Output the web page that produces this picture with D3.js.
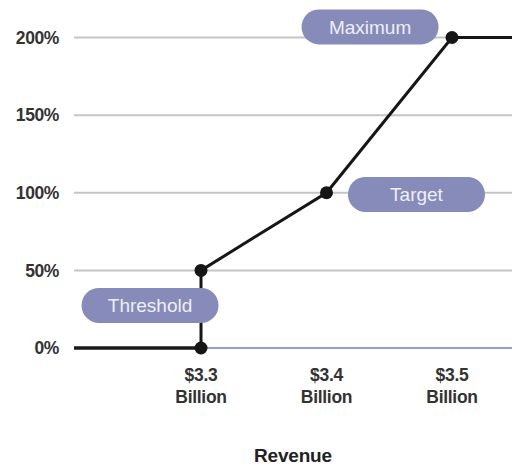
<!DOCTYPE html>
<html><head><meta charset="utf-8">
<script src="https://cdn.jsdelivr.net/npm/d3@7"></script>
<style>body{margin:0;background:#fff}svg{display:block}</style>
</head><body>
<script>
const yTicks = [0, 50, 100, 150, 200];
const xTicks = [3.3, 3.4, 3.5];
const xTickLabels = ["$3.3", "$3.4", "$3.5"];
const payoutX = [3.3, 3.3, 3.4, 3.5, 3.65];
const payoutY = [0, 50, 100, 200, 200];
const dotIdx = [0, 1, 2, 3];
const labels = ["Threshold", "Target", "Maximum"];
const labelX = [3.2594, 3.4717, 3.4347];
const labelY = [27.4, 98.9, 206.8];

const W = 512, H = 467;
const svg = d3.select("body").append("svg").attr("width", W).attr("height", H);
const x = d3.scaleLinear().domain([3.3, 3.5]).range([201, 452]);
const y = d3.scaleLinear().domain([0, 200]).range([348, 37.5]);
const font = "Helvetica, Arial, 'Liberation Sans', sans-serif";

// gridlines
svg.append("g").selectAll("line").data(yTicks.filter(d => d > 0)).join("line")
  .attr("x1", 74).attr("x2", W).attr("y1", d => y(d)).attr("y2", d => y(d))
  .attr("stroke", "#c4c4c4").attr("stroke-width", 2);
// blue baseline
svg.append("line").attr("x1", x(3.3)).attr("x2", W).attr("y1", y(0)).attr("y2", y(0))
  .attr("stroke", "#6f7fb8").attr("stroke-width", 1.5);
// black baseline left of threshold
svg.append("line").attr("x1", 74).attr("x2", x(3.3)).attr("y1", y(0)).attr("y2", y(0))
  .attr("stroke", "#1a1a1a").attr("stroke-width", 3.5);

// y labels
svg.append("g").selectAll("text").data(yTicks).join("text")
  .attr("x", 59).attr("y", d => y(d)).attr("dy", "0.36em").attr("text-anchor", "end")
  .attr("font-family", font).attr("font-weight", "bold").attr("font-size", 17.5)
  .attr("letter-spacing", -0.4).attr("fill", "#333")
  .text(d => d + "%");

// x labels
const xl = svg.append("g").selectAll("text").data(xTicks).join("text")
  .attr("text-anchor", "middle").attr("font-family", font).attr("font-weight", "bold")
  .attr("font-size", 17.5).attr("letter-spacing", -0.3).attr("fill", "#333");
xl.append("tspan").attr("x", d => x(d)).attr("y", 381).text((d, i) => xTickLabels[i]);
xl.append("tspan").attr("x", d => x(d)).attr("y", 403).text("Billion");

svg.append("text").attr("x", 293).attr("y", 462).attr("text-anchor", "middle")
  .attr("font-family", font).attr("font-weight", "bold").attr("font-size", 19)
  .attr("letter-spacing", -0.2).attr("fill", "#222")
  .text("Revenue");

// line
const pts = payoutX.map((d, i) => [d, payoutY[i]]);
svg.append("path").datum(pts)
  .attr("d", d3.line().x(d => x(d[0])).y(d => y(d[1])))
  .attr("fill", "none").attr("stroke", "#161616").attr("stroke-width", 3);

// pills
const pw = 137, ph = 35;
const pg = svg.append("g").selectAll("g").data(labels).join("g")
  .attr("transform", (d, i) => `translate(${x(labelX[i]) - pw/2},${y(labelY[i]) - ph/2})`);
pg.append("rect").attr("width", pw).attr("height", ph).attr("rx", 17.5).attr("ry", 17.5)
  .attr("fill", "#868bba");
pg.append("text").attr("x", pw/2).attr("y", ph/2).attr("dy", "0.36em").attr("text-anchor", "middle")
  .attr("font-family", font).attr("font-size", 19).attr("fill", "#eeeff7").text(d => d);

// dots
svg.append("g").selectAll("circle").data(dotIdx).join("circle")
  .attr("cx", i => x(payoutX[i])).attr("cy", i => y(payoutY[i])).attr("r", 6.5)
  .attr("fill", "#161616");
</script>
</body></html>
